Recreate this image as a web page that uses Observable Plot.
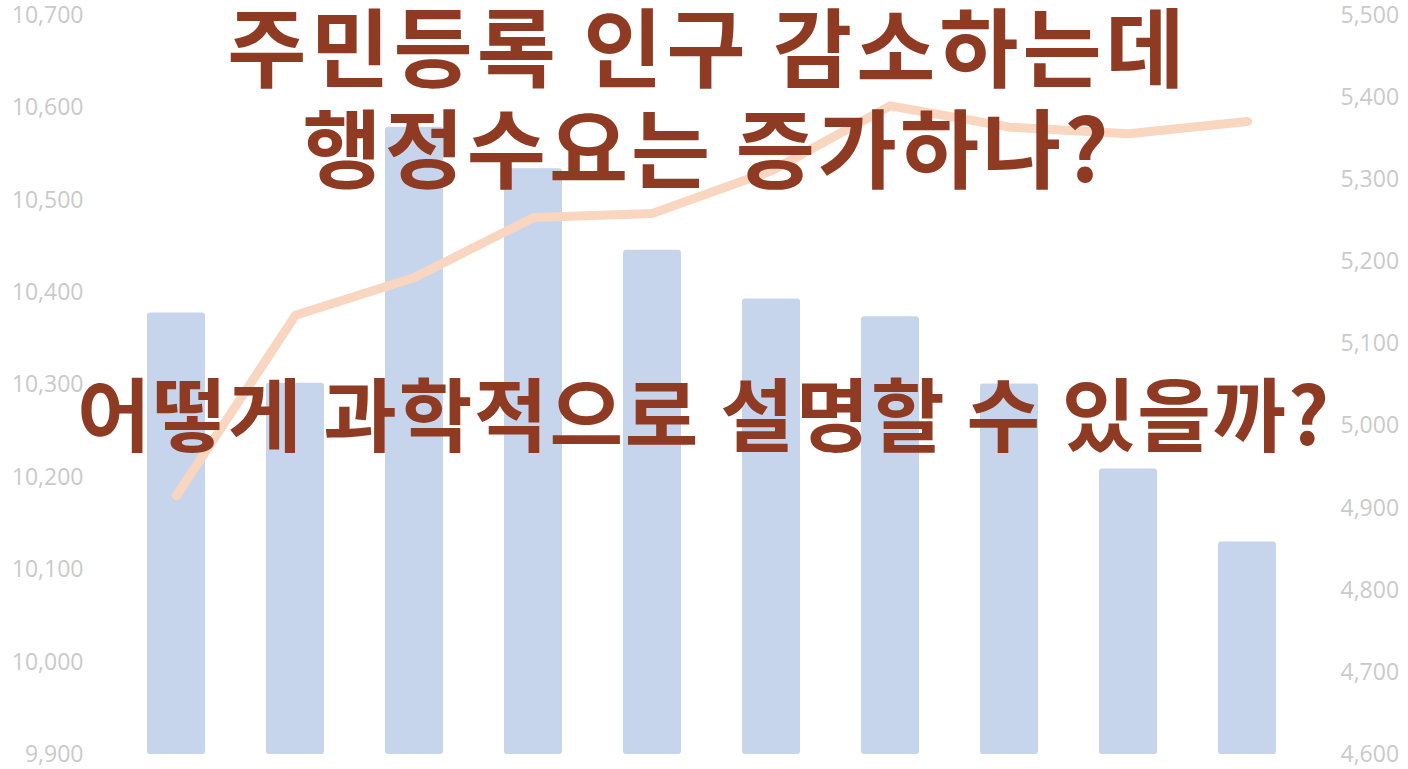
<!DOCTYPE html>
<html>
<head>
<meta charset="utf-8">
<script src="https://cdn.jsdelivr.net/npm/d3@7"></script>
<script src="https://cdn.jsdelivr.net/npm/@observablehq/plot@0.6"></script>
<style>
  html, body { margin: 0; padding: 0; background: #fff; }
  #wrap { position: relative; width: 1408px; height: 769px; overflow: hidden; }
  .t { position: absolute; left: 0; width: 1408px; text-align: center; white-space: nowrap;
       font-family: "Noto Sans CJK KR", "Noto Sans", sans-serif; font-weight: 700; color: #8F3A22;
       line-height: 1; }
</style>
</head>
<body>
<div id="wrap">
  <div id="chart"></div>
  <div class="t" id="l1" style="top:1px;font-size:86px;letter-spacing:4px;padding-left:4px;">주민등록 인구 감소하는데</div>
  <div class="t" id="l2" style="top:102px;font-size:86px;letter-spacing:3px;padding-left:3px;">행정수요는 증가하나?</div>
  <div class="t" id="l3" style="top:370px;font-size:80px;letter-spacing:1.8px;">어떻게 과학적으로 설명할 수 있을까?</div>
</div>
<script>
const categories = ["1", "2", "3", "4", "5", "6", "7", "8", "9", "10"];
const population = [10378, 10302, 10579, 10534, 10446, 10393, 10374, 10301, 10209, 10130];
const demand = [4915, 5135, 5181, 5254, 5259, 5311, 5390, 5364, 5356, 5371];
const leftTicks = [9900, 10000, 10100, 10200, 10300, 10400, 10500, 10600, 10700];
const rightTicks = [4600, 4700, 4800, 4900, 5000, 5100, 5200, 5300, 5400, 5500];

// map the right-axis domain [4600, 5500] onto the left-axis domain [9900, 10700]
const toLeft = d3.scaleLinear().domain([4600, 5500]).range([9900, 10700]);

const rows = categories.map((c, i) => ({c, pop: population[i], dem: toLeft(demand[i])}));
const fmt = d3.format(",");

const chart = Plot.plot({
  width: 1408,
  height: 769,
  marginTop: 15,
  marginBottom: 15,
  marginLeft: 114,
  marginRight: 99,
  style: {fontFamily: "'Open Sans', sans-serif", background: "transparent"},
  x: {domain: categories, paddingInner: 0.51, paddingOuter: 0.255, axis: null},
  y: {domain: [9900, 10700]},
  marks: [
    Plot.barY(rows, {x: "c", y1: 9900, y2: "pop", fill: "#C7D5EC", rx: 3}),
    Plot.lineY(rows, {x: "c", y: "dem", stroke: "#F8D6BF", strokeWidth: 9, strokeLinecap: "round", strokeLinejoin: "round"}),
    Plot.axisY(leftTicks, {anchor: "left", tickSize: 0, tickPadding: 31, fontSize: 23, fill: "#CACACA",
      tickFormat: fmt}),
    Plot.axisY(rightTicks.map(t => toLeft(t)), {anchor: "right", tickSize: 0, tickPadding: 31, fontSize: 23, fill: "#CACACA",
      tickFormat: (d) => fmt(Math.round(toLeft.invert(d)))})
  ]
});
document.getElementById("chart").appendChild(chart);
</script>
</body>
</html>
